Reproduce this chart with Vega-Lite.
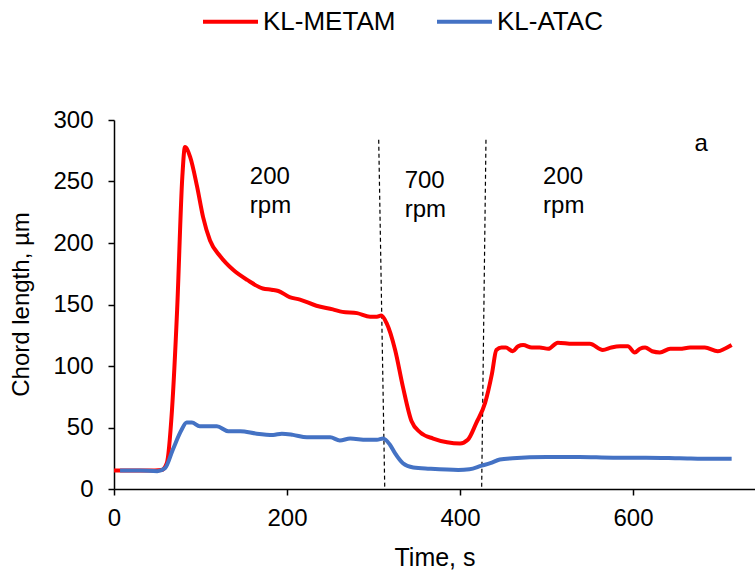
{
  "$schema": "https://vega.github.io/schema/vega-lite/v6.json",
  "width": 641,
  "height": 369,
  "autosize": {"type": "none"},
  "padding": {"left": 114, "top": 120, "right": 0, "bottom": 84},
  "background": "white",
  "config": {
    "font": "Liberation Sans",
    "view": {"stroke": null},
    "axis": {"grid": false, "domainColor": "black", "tickColor": "black", "labelColor": "black", "titleColor": "black", "titleFontWeight": "normal", "labelFontSize": 24, "titleFontSize": 24, "tickSize": 6, "domainWidth": 1.5, "tickWidth": 1.5, "labelFlush": false}
  },
  "datasets": {
    "curves": [
      {"series": "KL-METAM", "t": 0, "v": 15}, {"series": "KL-METAM", "t": 20, "v": 15}, {"series": "KL-METAM", "t": 40, "v": 15}, {"series": "KL-METAM", "t": 55, "v": 15.5}, {"series": "KL-METAM", "t": 61, "v": 21}, {"series": "KL-METAM", "t": 67, "v": 64}, {"series": "KL-METAM", "t": 73, "v": 146}, {"series": "KL-METAM", "t": 79, "v": 254}, {"series": "KL-METAM", "t": 82, "v": 278}, {"series": "KL-METAM", "t": 88, "v": 270}, {"series": "KL-METAM", "t": 96, "v": 246}, {"series": "KL-METAM", "t": 103, "v": 221}, {"series": "KL-METAM", "t": 111, "v": 202}, {"series": "KL-METAM", "t": 123, "v": 189}, {"series": "KL-METAM", "t": 138, "v": 178}, {"series": "KL-METAM", "t": 154, "v": 170}, {"series": "KL-METAM", "t": 172, "v": 163}, {"series": "KL-METAM", "t": 182, "v": 162}, {"series": "KL-METAM", "t": 190, "v": 161}, {"series": "KL-METAM", "t": 203, "v": 156}, {"series": "KL-METAM", "t": 215, "v": 154}, {"series": "KL-METAM", "t": 234, "v": 149}, {"series": "KL-METAM", "t": 253, "v": 146}, {"series": "KL-METAM", "t": 264, "v": 144}, {"series": "KL-METAM", "t": 281, "v": 143}, {"series": "KL-METAM", "t": 296, "v": 140}, {"series": "KL-METAM", "t": 304, "v": 140}, {"series": "KL-METAM", "t": 309, "v": 141}, {"series": "KL-METAM", "t": 315, "v": 135}, {"series": "KL-METAM", "t": 325, "v": 113}, {"series": "KL-METAM", "t": 334, "v": 83}, {"series": "KL-METAM", "t": 344, "v": 55}, {"series": "KL-METAM", "t": 354, "v": 46}, {"series": "KL-METAM", "t": 369, "v": 41}, {"series": "KL-METAM", "t": 385, "v": 38}, {"series": "KL-METAM", "t": 400, "v": 37}, {"series": "KL-METAM", "t": 409, "v": 40}, {"series": "KL-METAM", "t": 419, "v": 54}, {"series": "KL-METAM", "t": 429, "v": 70}, {"series": "KL-METAM", "t": 437, "v": 94}, {"series": "KL-METAM", "t": 442, "v": 113}, {"series": "KL-METAM", "t": 448, "v": 115}, {"series": "KL-METAM", "t": 453, "v": 115}, {"series": "KL-METAM", "t": 461, "v": 112}, {"series": "KL-METAM", "t": 467, "v": 116}, {"series": "KL-METAM", "t": 473, "v": 117}, {"series": "KL-METAM", "t": 483, "v": 115}, {"series": "KL-METAM", "t": 492, "v": 115}, {"series": "KL-METAM", "t": 502, "v": 114}, {"series": "KL-METAM", "t": 513, "v": 119}, {"series": "KL-METAM", "t": 530, "v": 118}, {"series": "KL-METAM", "t": 550, "v": 118}, {"series": "KL-METAM", "t": 565, "v": 113}, {"series": "KL-METAM", "t": 575, "v": 115}, {"series": "KL-METAM", "t": 585, "v": 116}, {"series": "KL-METAM", "t": 594, "v": 116}, {"series": "KL-METAM", "t": 602, "v": 111}, {"series": "KL-METAM", "t": 608, "v": 114}, {"series": "KL-METAM", "t": 614, "v": 115}, {"series": "KL-METAM", "t": 622, "v": 112}, {"series": "KL-METAM", "t": 631, "v": 111}, {"series": "KL-METAM", "t": 643, "v": 114}, {"series": "KL-METAM", "t": 654, "v": 114}, {"series": "KL-METAM", "t": 666, "v": 115}, {"series": "KL-METAM", "t": 683, "v": 115}, {"series": "KL-METAM", "t": 698, "v": 112}, {"series": "KL-METAM", "t": 706, "v": 114}, {"series": "KL-METAM", "t": 714, "v": 117},
      {"series": "KL-ATAC", "t": 7, "v": 15}, {"series": "KL-ATAC", "t": 30, "v": 15}, {"series": "KL-ATAC", "t": 50, "v": 14.5}, {"series": "KL-ATAC", "t": 59, "v": 17}, {"series": "KL-ATAC", "t": 68, "v": 32}, {"series": "KL-ATAC", "t": 78, "v": 48}, {"series": "KL-ATAC", "t": 84, "v": 54}, {"series": "KL-ATAC", "t": 90, "v": 54}, {"series": "KL-ATAC", "t": 99, "v": 51}, {"series": "KL-ATAC", "t": 119, "v": 51}, {"series": "KL-ATAC", "t": 132, "v": 47}, {"series": "KL-ATAC", "t": 146, "v": 47}, {"series": "KL-ATAC", "t": 165, "v": 45}, {"series": "KL-ATAC", "t": 184, "v": 44}, {"series": "KL-ATAC", "t": 194, "v": 45}, {"series": "KL-ATAC", "t": 207, "v": 44}, {"series": "KL-ATAC", "t": 223, "v": 42}, {"series": "KL-ATAC", "t": 250, "v": 42}, {"series": "KL-ATAC", "t": 261, "v": 39.5}, {"series": "KL-ATAC", "t": 273, "v": 41}, {"series": "KL-ATAC", "t": 292, "v": 40}, {"series": "KL-ATAC", "t": 304, "v": 40}, {"series": "KL-ATAC", "t": 311, "v": 41}, {"series": "KL-ATAC", "t": 319, "v": 36}, {"series": "KL-ATAC", "t": 325, "v": 29}, {"series": "KL-ATAC", "t": 334, "v": 21}, {"series": "KL-ATAC", "t": 346, "v": 17.5}, {"series": "KL-ATAC", "t": 365, "v": 16.5}, {"series": "KL-ATAC", "t": 398, "v": 15.5}, {"series": "KL-ATAC", "t": 411, "v": 16}, {"series": "KL-ATAC", "t": 425, "v": 19}, {"series": "KL-ATAC", "t": 435, "v": 21}, {"series": "KL-ATAC", "t": 446, "v": 24}, {"series": "KL-ATAC", "t": 461, "v": 25}, {"series": "KL-ATAC", "t": 500, "v": 26}, {"series": "KL-ATAC", "t": 538, "v": 26}, {"series": "KL-ATAC", "t": 577, "v": 25.5}, {"series": "KL-ATAC", "t": 615, "v": 25.5}, {"series": "KL-ATAC", "t": 654, "v": 25}, {"series": "KL-ATAC", "t": 692, "v": 24.5}, {"series": "KL-ATAC", "t": 714, "v": 24.5}
    ],
    "dividers": [
      {"t1": 306, "top": 284, "t2": 313, "bottom": 0},
      {"t1": 430, "top": 284, "t2": 425, "bottom": 0}
    ],
    "notes": [
      {"t": 157, "v": 248, "label": "200"}, {"t": 157, "v": 224, "label": "rpm"},
      {"t": 336, "v": 245, "label": "700"}, {"t": 336, "v": 221, "label": "rpm"},
      {"t": 496, "v": 248, "label": "200"}, {"t": 496, "v": 224, "label": "rpm"},
      {"t": 671, "v": 275, "label": "a"}
    ]
  },
  "layer": [
    {
      "data": {"name": "dividers"},
      "mark": {"type": "rule", "color": "black", "strokeWidth": 1.2, "strokeDash": [4, 3]},
      "encoding": {
        "x": {"field": "t1", "type": "quantitative", "scale": {"domain": [0, 741]}},
        "x2": {"field": "t2"},
        "y": {"field": "top", "type": "quantitative", "scale": {"domain": [0, 300]}},
        "y2": {"field": "bottom"}
      }
    },
    {
      "data": {"name": "curves"},
      "mark": {"type": "line", "strokeWidth": 4, "interpolate": "monotone"},
      "encoding": {
        "x": {"field": "t", "type": "quantitative", "scale": {"domain": [0, 741], "nice": false, "zero": false},
          "axis": {"title": "Time, s", "titleFontSize": 25, "values": [0, 200, 400, 600], "labelPadding": 11, "titleY": 68, "titleBaseline": "middle"}},
        "y": {"field": "v", "type": "quantitative", "scale": {"domain": [0, 300], "nice": false},
          "axis": {"title": "Chord length, µm", "values": [0, 50, 100, 150, 200, 250, 300], "labelPadding": 15, "titleX": -93, "titleY": 184, "titleBaseline": "middle"}},
        "color": {"field": "series", "type": "nominal",
          "scale": {"domain": ["KL-METAM", "KL-ATAC"], "range": ["#FF0000", "#4472C4"]},
          "sort": ["KL-METAM", "KL-ATAC"],
          "legend": {"title": null, "orient": "none", "direction": "horizontal", "legendX": 87, "legendY": -128,
            "symbolType": "stroke", "symbolSize": 3025, "symbolStrokeWidth": 4, "labelFontSize": 26, "labelOffset": 3, "columnPadding": 33, "labelColor": "black"}}
      }
    },
    {
      "data": {"name": "notes"},
      "mark": {"type": "text", "fontSize": 24, "align": "left", "baseline": "alphabetic", "color": "black"},
      "encoding": {
        "x": {"field": "t", "type": "quantitative"},
        "y": {"field": "v", "type": "quantitative"},
        "text": {"field": "label"}
      }
    }
  ]
}
